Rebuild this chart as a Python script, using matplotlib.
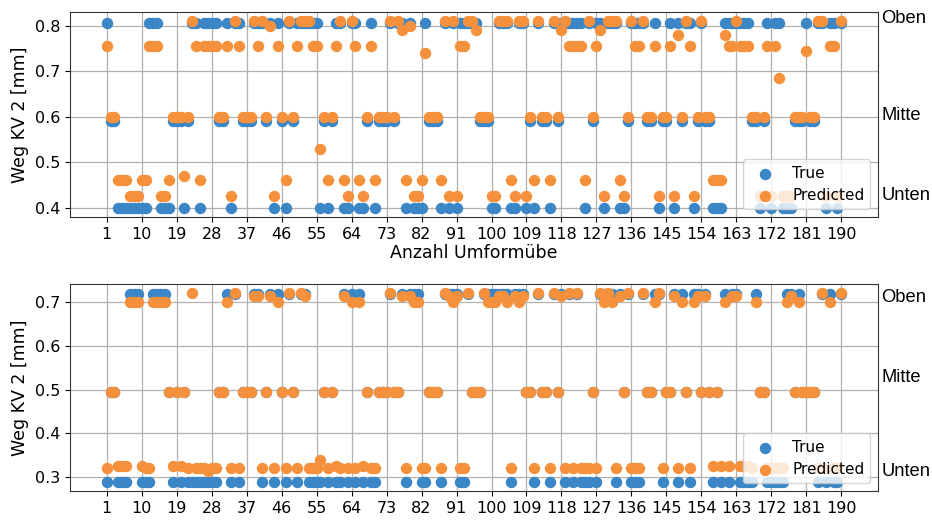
import matplotlib
matplotlib.use("Agg")
import matplotlib.pyplot as plt
import numpy as np

# ---------------- data ----------------
# class level of the true value: 0 = Unten, 1 = Mitte, 2 = Oben
top_levels = [0.40, 0.59, 0.807]
bot_levels = [0.29, 0.495, 0.719]

top_true_codes = [
    2,1,1,0,0,0,0,0,0,0,
    0,2,2,2,0,0,0,1,1,1,
    0,1,2,2,0,2,2,2,2,1,
    1,2,0,2,2,1,1,1,2,2,
    2,1,2,0,2,1,0,2,1,2,
    2,2,2,2,2,0,1,0,1,2,
    2,0,0,2,2,0,0,1,2,0,
    1,1,1,2,1,2,2,0,2,0,
    0,0,2,1,1,1,0,2,0,2,
    0,2,2,2,2,2,1,1,1,0,
    0,2,2,2,0,0,2,2,0,1,
    0,2,1,1,0,2,1,2,2,2,
    2,2,2,0,2,1,2,2,0,2,
    2,2,0,0,1,2,2,2,2,1,
    1,2,0,1,1,2,0,2,1,2,
    2,0,1,2,1,1,0,0,0,2,
    2,2,2,2,2,2,1,1,0,1,
    2,0,2,2,0,0,0,1,1,1,
    2,1,1,2,2,0,2,2,0,2]
top_pred = [
    0.755,0.6,0.6,0.46,0.46,0.46,0.425,0.425,0.425,0.46,
    0.46,0.755,0.755,0.755,0.425,0.425,0.46,0.6,0.6,0.6,
    0.47,0.6,0.81,0.755,0.46,0.755,0.755,0.755,0.755,0.6,
    0.6,0.755,0.425,0.81,0.755,0.6,0.6,0.6,0.81,0.755,
    0.81,0.6,0.80,0.425,0.755,0.6,0.46,0.81,0.6,0.755,
    0.81,0.81,0.81,0.755,0.755,0.53,0.6,0.46,0.6,0.755,
    0.81,0.46,0.425,0.81,0.755,0.46,0.425,0.6,0.755,0.46,
    0.6,0.6,0.6,0.81,0.6,0.81,0.79,0.46,0.80,0.425,
    0.425,0.46,0.74,0.6,0.6,0.6,0.46,0.81,0.425,0.81,
    0.425,0.755,0.755,0.81,0.81,0.79,0.6,0.6,0.6,0.425,
    0.425,0.81,0.81,0.81,0.46,0.425,0.81,0.81,0.425,0.6,
    0.46,0.81,0.6,0.6,0.46,0.81,0.6,0.79,0.81,0.755,
    0.755,0.755,0.755,0.46,0.81,0.6,0.755,0.79,0.425,0.81,
    0.81,0.81,0.46,0.425,0.6,0.81,0.755,0.755,0.81,0.6,
    0.6,0.755,0.425,0.6,0.6,0.755,0.425,0.78,0.6,0.81,
    0.755,0.425,0.6,0.81,0.6,0.6,0.46,0.46,0.46,0.78,
    0.755,0.755,0.81,0.755,0.755,0.755,0.6,0.6,0.425,0.6,
    0.755,0.425,0.755,0.685,0.425,0.425,0.425,0.6,0.6,0.6,
    0.745,0.6,0.6,0.81,0.81,0.425,0.755,0.755,0.425,0.81]

bot_true_codes = [
    0,1,1,0,0,0,2,2,2,0,
    0,0,2,2,2,2,1,0,1,0,
    1,0,0,0,0,0,0,0,0,1,
    1,2,0,2,0,1,1,1,2,2,
    0,1,2,0,2,1,0,2,1,0,
    2,2,0,0,0,0,1,0,1,0,
    0,2,0,2,0,2,0,1,0,0,
    1,1,1,2,1,1,2,0,2,2,
    2,0,0,1,1,1,0,2,2,2,
    2,0,0,2,1,1,1,2,2,2,
    2,2,2,2,0,2,2,2,1,1,
    0,2,1,1,0,2,1,2,0,2,
    0,2,0,0,0,1,0,2,2,2,
    2,0,2,1,2,0,0,0,2,1,
    1,2,2,0,1,1,2,0,2,1,
    0,2,2,1,2,1,0,1,0,2,
    0,2,2,0,0,0,0,2,1,1,
    0,0,0,0,0,2,2,1,2,1,
    1,1,1,0,2,0,2,0,0,2]
bot_pred = [
    0.32,0.495,0.495,0.325,0.325,0.325,0.70,0.70,0.70,0.325,
    0.32,0.32,0.70,0.70,0.70,0.70,0.495,0.325,0.495,0.325,
    0.495,0.32,0.72,0.32,0.32,0.32,0.315,0.32,0.32,0.495,
    0.495,0.70,0.32,0.72,0.32,0.495,0.495,0.495,0.715,0.715,
    0.32,0.495,0.715,0.32,0.70,0.495,0.32,0.72,0.495,0.32,
    0.72,0.715,0.32,0.32,0.32,0.34,0.495,0.32,0.495,0.325,
    0.32,0.715,0.32,0.70,0.32,0.70,0.325,0.495,0.32,0.32,
    0.495,0.495,0.495,0.72,0.495,0.495,0.715,0.32,0.715,0.70,
    0.70,0.32,0.32,0.495,0.495,0.495,0.32,0.72,0.715,0.70,
    0.715,0.32,0.32,0.72,0.495,0.495,0.495,0.72,0.70,0.70,
    0.70,0.715,0.715,0.70,0.32,0.715,0.70,0.715,0.495,0.495,
    0.32,0.72,0.495,0.495,0.32,0.72,0.495,0.715,0.32,0.72,
    0.32,0.72,0.32,0.32,0.32,0.495,0.32,0.72,0.70,0.72,
    0.70,0.32,0.715,0.495,0.72,0.32,0.32,0.32,0.72,0.495,
    0.495,0.70,0.72,0.32,0.495,0.495,0.715,0.32,0.70,0.495,
    0.32,0.70,0.715,0.495,0.715,0.495,0.325,0.495,0.325,0.70,
    0.325,0.715,0.715,0.325,0.325,0.325,0.32,0.70,0.495,0.495,
    0.32,0.32,0.32,0.32,0.32,0.70,0.715,0.495,0.70,0.495,
    0.495,0.495,0.495,0.32,0.72,0.32,0.70,0.32,0.32,0.72]

x_ticks = list(range(1, 191, 9))
class_labels = ["Unten", "Mitte", "Oben"]
ylabel = "Weg KV 2 [mm]"
xlabel = "Anzahl Umformübe"

# ---------------- plot ----------------
plt.rcParams['font.family'] = ['DejaVu Sans']
C_TRUE = '#3a86c6'
C_PRED = '#f5913c'

fig = plt.figure(figsize=(9.32, 5.2), dpi=100)
ax1 = fig.add_axes([0.0751, 0.5827, 0.8670, 0.3943])
ax2 = fig.add_axes([0.0751, 0.0558, 0.8670, 0.3980])

def draw(ax, codes, levels, pred, yticks, lab_y):
    x = np.arange(1, len(codes) + 1)
    yt = np.array(levels)[np.array(codes)]
    ax.scatter(x, yt, s=52, color=C_TRUE, label='True', zorder=3)
    ax.scatter(x, pred, s=52, color=C_PRED, label='Predicted', zorder=3)
    ax.set_xticks(x_ticks)
    ax.set_yticks(yticks)
    ax.grid(True, color='#b4b0ac', lw=0.9)
    ax.set_axisbelow(True)
    ax.tick_params(labelsize=11.5)
    ax.set_ylabel(ylabel, fontsize=12.5)
    for lbl, yy in zip(class_labels, lab_y):
        ax.text(1.004, yy, lbl, transform=ax.transAxes, fontsize=13.2,
                family='Liberation Sans', va='center', ha='left')
    ax.legend(loc='lower right', fontsize=11, framealpha=0.8)
    for s in ax.spines.values():
        s.set_color('#333333')

draw(ax1, top_true_codes, top_levels, top_pred, [0.4, 0.5, 0.6, 0.7, 0.8],
     [0.107, 0.493, 0.97])
draw(ax2, bot_true_codes, bot_levels, bot_pred, [0.3, 0.4, 0.5, 0.6, 0.7],
     [0.092, 0.546, 0.937])
ax1.set_xlabel(xlabel, fontsize=12.5, labelpad=2)

fig.savefig('out.png', dpi=100)
